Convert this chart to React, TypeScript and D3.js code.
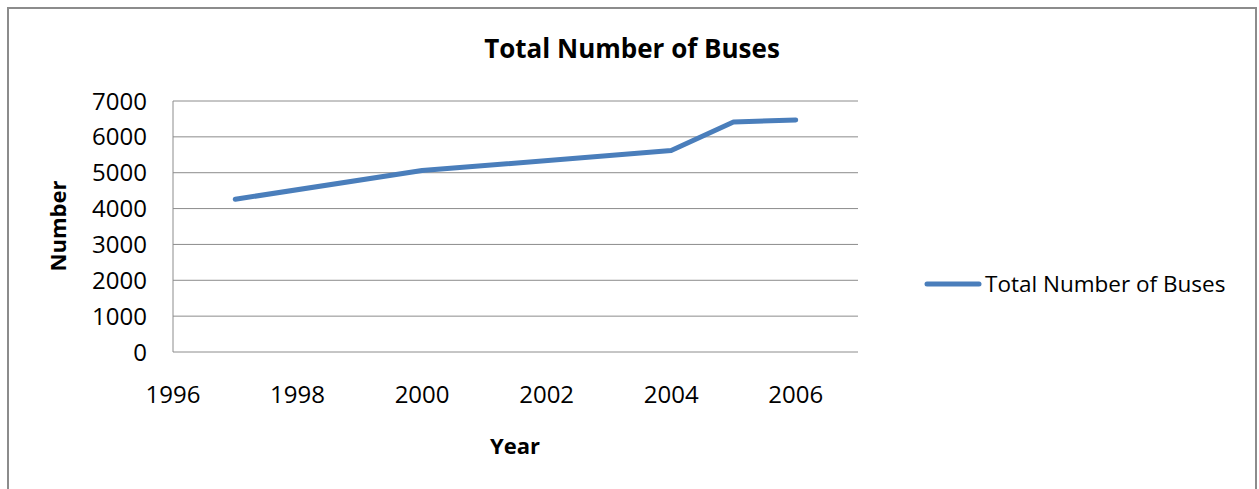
import React from "react";
import * as d3 from "d3";

// Fleet size by year
const years = [1997, 2000, 2004, 2005, 2006];
const buses = [4260, 5060, 5620, 6415, 6470];
const yTicks = [0, 1000, 2000, 3000, 4000, 5000, 6000, 7000];
const xTicks = [1996, 1998, 2000, 2002, 2004, 2006];
const seriesName = "Total Number of Buses";
const chartTitle = "Total Number of Buses";
const xTitle = "Year";
const yTitle = "Number";

const W = 1259;
const H = 489;
const plot = { left: 173, right: 858, top: 101, bottom: 352 };
const FONT = "'Open Sans', 'Noto Sans', sans-serif";
const LINE = "#4A7EBB";
const GRID = "#8c8c8c";

export default function App() {
  const x = d3.scaleLinear().domain([1996, 2007]).range([plot.left, plot.right]);
  const y = d3.scaleLinear().domain([0, 7000]).range([plot.bottom, plot.top]);
  const pts = years.map((yr, i) => [yr, buses[i]] as [number, number]);
  const line = d3
    .line<[number, number]>()
    .x((d) => x(d[0]))
    .y((d) => y(d[1]));

  return (
    <svg
      width={W}
      height={H}
      style={{ position: "absolute", left: 0, top: 0, background: "#fff" }}
      fontFamily={FONT}
    >
      <rect x={0} y={0} width={W} height={H} fill="#fff" />
      {/* chart frame */}
      <rect x={8} y={8} width={1248} height={520} fill="none" stroke={GRID} strokeWidth={2} />

      <text x={632} y={58} textAnchor="middle" fontWeight="bold" fontSize={26} fill="#000">
        {chartTitle}
      </text>

      {/* horizontal gridlines */}
      {yTicks.map((t) => (
        <line key={t} x1={plot.left} x2={plot.right} y1={y(t)} y2={y(t)} stroke={GRID} strokeWidth={1} />
      ))}
      <line x1={plot.left} x2={plot.left} y1={plot.top} y2={plot.bottom} stroke={GRID} strokeWidth={1} />

      {/* y tick labels */}
      {yTicks.map((t) => (
        <text key={t} x={147} y={y(t)} dy="0.36em" textAnchor="end" fontSize={24} fill="#000">
          {t}
        </text>
      ))}

      {/* x tick labels */}
      {xTicks.map((t) => (
        <text key={t} x={x(t)} y={403} textAnchor="middle" fontSize={24} fill="#000">
          {t}
        </text>
      ))}

      <text x={515} y={454} textAnchor="middle" fontWeight="bold" fontSize={22} fill="#000">
        {xTitle}
      </text>
      <text
        transform={`translate(66,226) rotate(-90)`}
        textAnchor="middle"
        fontWeight="bold"
        fontSize={22}
        fill="#000"
      >
        {yTitle}
      </text>

      <path
        d={line(pts) ?? ""}
        fill="none"
        stroke={LINE}
        strokeWidth={5}
        strokeLinecap="round"
        strokeLinejoin="round"
      />

      {/* legend */}
      <line x1={927} x2={979} y1={284} y2={284} stroke={LINE} strokeWidth={5} strokeLinecap="round" />
      <text x={985} y={292} fontSize={22.5} fill="#000">
        {seriesName}
      </text>
    </svg>
  );
}
